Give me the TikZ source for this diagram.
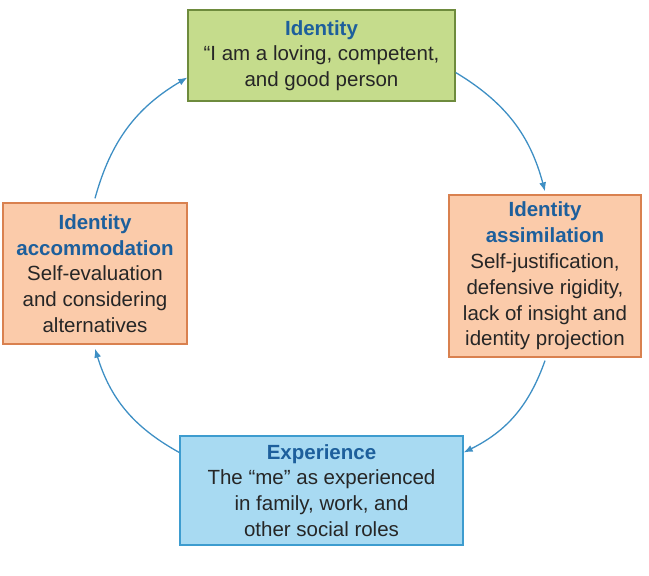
\documentclass[tikz,border=0pt]{standalone}
\usepackage{fontspec}
\setmainfont{Liberation Sans}
\usetikzlibrary{arrows.meta}
\definecolor{gfill}{HTML}{C5DC8C}\definecolor{gline}{HTML}{6E8B3D}
\definecolor{ofill}{HTML}{FBCBAA}\definecolor{oline}{HTML}{D9814F}
\definecolor{bfill}{HTML}{A8DAF2}\definecolor{bline}{HTML}{3D9CCF}
\definecolor{ttl}{HTML}{1D5F9C}\definecolor{arr}{HTML}{3E8FC4}
\begin{document}
\begin{tikzpicture}[x=1pt,y=-1pt,
  box/.style={draw,line width=1.3pt,align=center,font=\fontsize{20.5}{25.8}\selectfont,text=black!85,inner sep=0pt},
  cyc/.style={-{Latex[length=9pt,width=7pt]},draw=arr,line width=1.3pt}]
\useasboundingbox (0,0) rectangle (649,576);
\node[box,fill=gfill,draw=gline,minimum width=267pt,minimum height=91pt] (id) at (321.5,55.5)
 {{\bfseries\color{ttl}Identity}\\“I am a loving, competent,\\and good person};
\node[box,fill=ofill,draw=oline,minimum width=192pt,minimum height=162pt] (as) at (545,276)
 {{\bfseries\color{ttl}Identity}\\{\bfseries\color{ttl}assimilation}\\Self-justification,\\defensive rigidity,\\lack of insight and\\identity projection};
\node[box,fill=bfill,draw=bline,minimum width=283pt,minimum height=109pt] (ex) at (321.5,490.5)
 {{\bfseries\color{ttl}Experience}\\The “me” as experienced\\in family, work, and\\other social roles};
\node[box,fill=ofill,draw=oline,minimum width=184pt,minimum height=141pt] (ac) at (95,273.5)
 {{\bfseries\color{ttl}Identity}\\{\bfseries\color{ttl}accommodation}\\Self-evaluation\\and considering\\alternatives};
\draw[cyc] ([yshift=-17pt]id.east) to[bend left=22] ([yshift=3pt]as.north);
\draw[cyc] ([yshift=-3pt]as.south) to[bend left=22] ([yshift=38pt]ex.east);
\draw[cyc] ([yshift=38pt]ex.west) to[bend left=22] ([yshift=-4pt]ac.south);
\draw[cyc] ([yshift=4pt]ac.north) to[bend left=22] ([yshift=-22pt]id.west);
\end{tikzpicture}
\end{document}
